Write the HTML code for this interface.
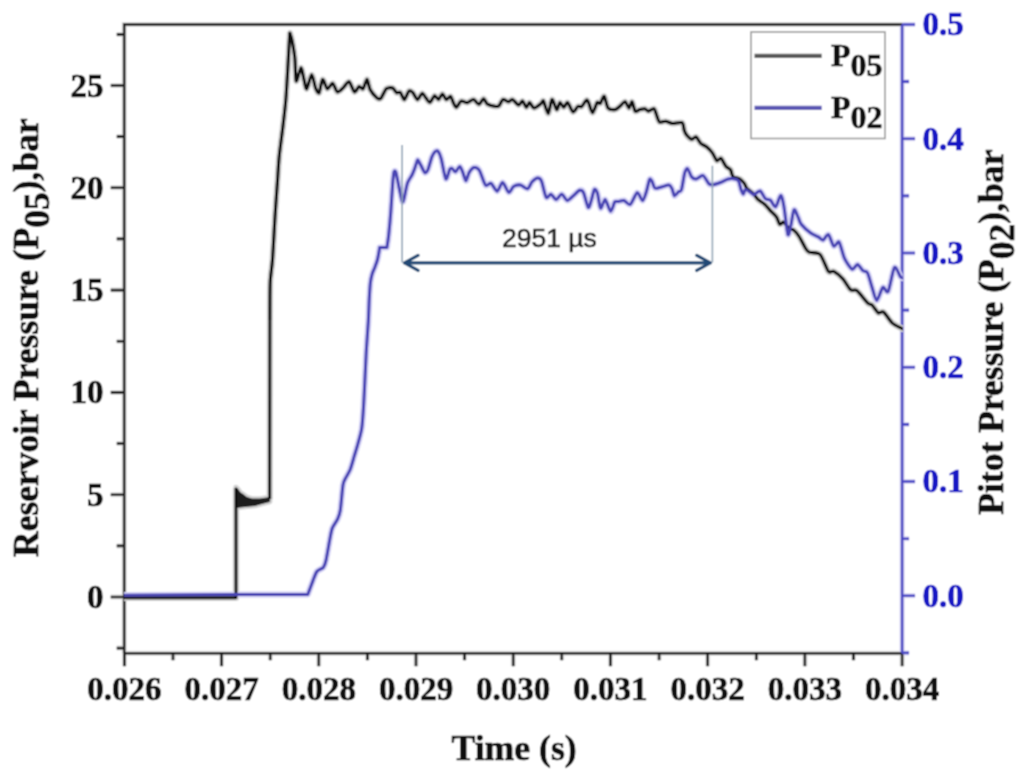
<!DOCTYPE html>
<html><head><meta charset="utf-8"><title>Reservoir and Pitot Pressure</title>
<style>html,body{margin:0;padding:0;background:#fff;width:1030px;height:782px;overflow:hidden;font-family:"Liberation Serif",serif}</style>
</head><body><svg width="1030" height="782" viewBox="0 0 1030 782" style="display:block"><defs><filter id="soft" x="0" y="0" width="1030" height="782" filterUnits="userSpaceOnUse"><feConvolveMatrix order="3" kernelMatrix="1 2 1 2 4 2 1 2 1" divisor="16" edgeMode="duplicate"/></filter></defs><g filter="url(#soft)"><rect width="1030" height="782" fill="#fff"/><path d="M124.2,653.2 L124.2,24.5 L902.1,24.5 M124.2,653.2 L902.1,653.2 M124.4,653.2 L124.4,666.2 M173.0,653.2 L173.0,660.2 M221.6,653.2 L221.6,666.2 M270.2,653.2 L270.2,660.2 M318.8,653.2 L318.8,666.2 M367.4,653.2 L367.4,660.2 M416.0,653.2 L416.0,666.2 M464.6,653.2 L464.6,660.2 M513.2,653.2 L513.2,666.2 M561.8,653.2 L561.8,660.2 M610.4,653.2 L610.4,666.2 M659.1,653.2 L659.1,660.2 M707.7,653.2 L707.7,666.2 M756.3,653.2 L756.3,660.2 M804.9,653.2 L804.9,666.2 M853.5,653.2 L853.5,660.2 M902.1,653.2 L902.1,666.2 M124.2,597.0 L110.7,597.0 M124.2,494.7 L110.7,494.7 M124.2,392.4 L110.7,392.4 M124.2,290.1 L110.7,290.1 M124.2,187.8 L110.7,187.8 M124.2,85.5 L110.7,85.5 M124.2,648.1 L116.7,648.1 M124.2,545.9 L116.7,545.9 M124.2,443.5 L116.7,443.5 M124.2,341.2 L116.7,341.2 M124.2,238.9 L116.7,238.9 M124.2,136.6 L116.7,136.6 M124.2,34.4 L116.7,34.4" fill="none" stroke="#dcdcdc" stroke-width="5"/><path d="M902.1,653.2 L902.1,24.5 M902.1,595.8 L915.1,595.8 M902.1,481.5 L915.1,481.5 M902.1,367.3 L915.1,367.3 M902.1,253.0 L915.1,253.0 M902.1,138.8 L915.1,138.8 M902.1,24.5 L915.1,24.5 M902.1,652.9 L909.1,652.9 M902.1,538.7 L909.1,538.7 M902.1,424.4 L909.1,424.4 M902.1,310.1 L909.1,310.1 M902.1,195.9 L909.1,195.9 M902.1,81.6 L909.1,81.6" stroke="#dad8f4" stroke-width="5" fill="none"/><path d="M124.2,653.2 L124.2,24.5 L902.1,24.5" fill="none" stroke="#1c1c1c" stroke-width="2.6"/><path d="M124.2,653.2 L902.1,653.2" fill="none" stroke="#1c1c1c" stroke-width="2.6"/><path d="M124.4,653.2 L124.4,666.2 M173.0,653.2 L173.0,660.2 M221.6,653.2 L221.6,666.2 M270.2,653.2 L270.2,660.2 M318.8,653.2 L318.8,666.2 M367.4,653.2 L367.4,660.2 M416.0,653.2 L416.0,666.2 M464.6,653.2 L464.6,660.2 M513.2,653.2 L513.2,666.2 M561.8,653.2 L561.8,660.2 M610.4,653.2 L610.4,666.2 M659.1,653.2 L659.1,660.2 M707.7,653.2 L707.7,666.2 M756.3,653.2 L756.3,660.2 M804.9,653.2 L804.9,666.2 M853.5,653.2 L853.5,660.2 M902.1,653.2 L902.1,666.2 M124.2,597.0 L110.7,597.0 M124.2,494.7 L110.7,494.7 M124.2,392.4 L110.7,392.4 M124.2,290.1 L110.7,290.1 M124.2,187.8 L110.7,187.8 M124.2,85.5 L110.7,85.5 M124.2,648.1 L116.7,648.1 M124.2,545.9 L116.7,545.9 M124.2,443.5 L116.7,443.5 M124.2,341.2 L116.7,341.2 M124.2,238.9 L116.7,238.9 M124.2,136.6 L116.7,136.6 M124.2,34.4 L116.7,34.4" stroke="#1c1c1c" stroke-width="2.6" fill="none"/><path d="M902.1,653.2 L902.1,24.5 M902.1,595.8 L915.1,595.8 M902.1,481.5 L915.1,481.5 M902.1,367.3 L915.1,367.3 M902.1,253.0 L915.1,253.0 M902.1,138.8 L915.1,138.8 M902.1,24.5 L915.1,24.5 M902.1,652.9 L909.1,652.9 M902.1,538.7 L909.1,538.7 M902.1,424.4 L909.1,424.4 M902.1,310.1 L909.1,310.1 M902.1,195.9 L909.1,195.9 M902.1,81.6 L909.1,81.6" stroke="#4a46c4" stroke-width="2.6" fill="none"/><g font-family="Liberation Serif" font-weight="bold" font-size="33" fill="#111" stroke="#111" stroke-width="0.7"><text x="124.4" y="699.5" text-anchor="middle">0.026</text><text x="221.6" y="699.5" text-anchor="middle">0.027</text><text x="318.8" y="699.5" text-anchor="middle">0.028</text><text x="416.0" y="699.5" text-anchor="middle">0.029</text><text x="513.2" y="699.5" text-anchor="middle">0.030</text><text x="610.4" y="699.5" text-anchor="middle">0.031</text><text x="707.7" y="699.5" text-anchor="middle">0.032</text><text x="804.9" y="699.5" text-anchor="middle">0.033</text><text x="902.1" y="699.5" text-anchor="middle">0.034</text><text x="103.5" y="608.0" text-anchor="end">0</text><text x="103.5" y="505.7" text-anchor="end">5</text><text x="103.5" y="403.4" text-anchor="end">10</text><text x="103.5" y="301.1" text-anchor="end">15</text><text x="103.5" y="198.8" text-anchor="end">20</text><text x="103.5" y="96.5" text-anchor="end">25</text></g><g font-family="Liberation Serif" font-weight="bold" font-size="33" fill="#1414c4" stroke="#1414c4" stroke-width="0.7"><text x="922.4" y="606.6">0.0</text><text x="922.4" y="492.3">0.1</text><text x="922.4" y="378.1">0.2</text><text x="922.4" y="263.8">0.3</text><text x="922.4" y="149.6">0.4</text><text x="922.4" y="35.3">0.5</text></g><g font-family="Liberation Serif" font-weight="bold" font-size="35.5" fill="#111" stroke="#111" stroke-width="0.7"><text x="451.5" y="759.7" font-size="35.7">Time (s)</text><text transform="translate(37.5,557) rotate(-90)" x="0" y="0">Reservoir Pressure (P<tspan dy="11">05</tspan><tspan dy="-11">),bar</tspan></text><text transform="translate(1002.5,514.8) rotate(-90)" x="0" y="0" font-size="35.6">Pitot Pressure (P<tspan dy="11">02</tspan><tspan dy="-11">),bar</tspan></text></g><polygon points="236,487.5 238,489.5 240,492.5 243,494.5 247,497.5 252,499 260,499 269.7,497.5 269.7,501.5 262,503.5 255,505.5 245,506.5 236.5,507.5" fill="none" stroke="#d2d2d2" stroke-width="5.5" stroke-linejoin="round"/><path d="M124,597.7 L236,597.7 L236,488 M269.7,499 L269.9,320" fill="none" stroke="#d2d2d2" stroke-width="6.5" stroke-linejoin="round"/><path d="M269.9,320.0 C269.9,320.0 269.9,290.7 270.2,282.7 C270.5,274.7 271.8,268.9 272.5,259.7 C273.2,250.5 274.5,224.4 275.2,213.7 C275.9,203.0 277.1,187.0 277.6,179.4 C278.1,171.8 278.5,163.5 279.2,156.4 C279.9,149.3 282.1,133.5 283.0,125.8 C283.9,118.1 285.3,106.7 285.9,99.0 C286.5,91.3 287.3,76.7 287.8,68.3 C288.3,59.9 289.3,40.5 289.6,36.0 C289.9,31.5 289.9,33.3 290.3,34.3 C290.7,35.3 292.0,40.1 292.6,43.4 C293.2,46.7 294.4,53.7 294.9,58.7 C295.4,63.7 295.4,79.8 296.2,81.0 C297.0,82.2 299.9,68.1 300.9,67.9 C301.9,67.7 303.2,76.7 304.0,79.5 C304.8,82.3 305.7,89.4 306.7,88.8 C307.7,88.2 310.5,75.0 311.7,74.9 C312.9,74.8 314.6,85.7 315.6,88.1 C316.6,90.5 318.2,93.8 319.1,92.7 C320.0,91.6 321.5,80.0 322.6,79.5 C323.7,79.0 326.0,88.3 327.3,88.8 C328.6,89.3 331.4,83.0 332.7,83.4 C334.0,83.8 335.9,91.4 337.4,91.9 C338.9,92.4 342.1,88.6 343.6,87.3 C345.1,86.0 347.5,81.2 349.0,81.8 C350.5,82.4 353.2,91.3 354.5,91.9 C355.8,92.5 358.0,86.9 359.1,86.5 C360.2,86.1 361.9,89.7 363.0,88.8 C364.1,87.9 366.1,79.3 367.0,79.4 C367.9,79.5 368.8,87.0 370.1,89.5 C371.4,92.0 375.6,97.0 377.1,98.1 C378.6,99.2 379.8,99.4 381.0,98.1 C382.2,96.8 384.9,90.0 386.4,88.7 C387.9,87.4 391.3,87.5 392.6,88.0 C393.9,88.5 395.5,92.0 396.5,92.6 C397.5,93.2 399.4,91.7 400.4,92.6 C401.4,93.5 403.2,99.8 404.3,99.6 C405.4,99.4 407.8,92.0 408.9,91.1 C410.0,90.2 411.7,91.5 412.8,92.6 C413.9,93.7 416.3,99.5 417.5,99.6 C418.7,99.7 421.0,93.6 422.1,93.4 C423.2,93.2 425.0,96.9 426.0,98.1 C427.0,99.3 428.8,102.6 429.9,102.3 C431.0,102.0 433.5,96.1 434.6,95.7 C435.7,95.3 437.5,99.7 438.5,99.5 C439.5,99.3 441.4,94.1 442.4,94.1 C443.4,94.1 445.2,99.2 446.3,99.5 C447.4,99.8 449.7,96.0 450.6,96.4 C451.5,96.8 452.5,101.1 453.3,102.6 C454.1,104.1 455.4,107.5 456.4,107.3 C457.4,107.1 459.6,101.7 461.1,101.1 C462.6,100.5 465.6,102.8 467.3,102.6 C469.0,102.4 472.0,99.3 473.5,99.5 C475.0,99.7 477.6,104.3 478.9,104.2 C480.2,104.1 482.5,98.7 483.6,98.7 C484.7,98.7 485.8,103.2 487.5,104.2 C489.2,105.2 494.5,106.3 496.0,106.5 C497.5,106.7 498.2,106.6 499.1,105.7 C500.0,104.8 501.8,100.0 503.1,99.5 C504.4,99.0 507.3,101.8 508.5,101.8 C509.7,101.8 511.1,99.1 512.4,99.5 C513.7,99.9 517.3,104.8 518.6,105.0 C519.9,105.2 521.5,100.8 522.5,101.1 C523.5,101.4 525.5,107.1 526.4,107.3 C527.3,107.5 528.5,102.5 529.5,102.6 C530.5,102.7 532.6,107.9 534.2,108.0 C535.8,108.1 540.0,104.3 541.2,103.4 C542.4,102.5 542.6,99.8 543.5,101.1 C544.4,102.4 547.1,113.7 548.2,113.5 C549.3,113.3 550.9,100.0 552.0,99.5 C553.1,99.0 555.7,109.2 556.7,109.6 C557.7,110.0 558.9,102.9 559.8,102.6 C560.7,102.3 562.7,107.3 563.7,107.3 C564.7,107.3 566.4,102.0 567.6,102.6 C568.8,103.2 571.6,111.4 573.0,111.9 C574.4,112.4 576.6,107.2 577.8,106.5 C579.0,105.8 580.6,107.3 581.7,106.5 C582.8,105.7 585.4,100.8 586.3,100.3 C587.2,99.8 587.8,100.9 588.6,102.6 C589.4,104.3 591.4,112.7 592.5,112.7 C593.6,112.7 596.2,103.8 597.2,102.6 C598.2,101.4 599.4,104.2 600.3,103.4 C601.2,102.6 603.2,95.8 604.2,96.4 C605.2,97.0 606.7,106.2 608.1,108.0 C609.5,109.8 613.5,109.8 615.0,109.6 C616.5,109.4 618.4,107.5 619.7,106.5 C621.0,105.5 623.9,101.6 625.1,101.8 C626.3,102.0 628.1,108.0 629.0,108.0 C629.9,108.0 631.3,101.4 632.1,101.8 C632.9,102.2 634.2,110.2 635.2,111.2 C636.2,112.2 638.6,109.9 639.9,109.6 C641.2,109.3 643.6,108.5 644.7,108.7 C645.8,108.9 647.3,111.1 648.5,111.1 C649.7,111.1 653.0,108.3 654.0,108.7 C655.0,109.1 655.6,112.4 656.3,114.2 C657.0,116.0 658.2,121.0 659.4,121.9 C660.6,122.8 663.8,121.0 665.6,121.2 C667.4,121.4 670.4,123.3 672.6,123.5 C674.8,123.7 680.4,121.8 682.0,122.7 C683.6,123.6 683.7,128.8 684.3,130.5 C684.9,132.2 685.6,133.9 686.6,135.1 C687.6,136.3 690.2,139.0 691.5,139.3 C692.8,139.6 694.9,136.5 696.1,137.0 C697.3,137.5 699.3,142.1 700.7,143.4 C702.1,144.7 705.0,145.6 706.5,146.8 C708.0,148.0 710.8,150.8 712.2,152.6 C713.6,154.4 715.6,159.8 716.8,160.6 C718.0,161.4 719.7,157.5 720.9,158.3 C722.1,159.1 724.7,164.9 726.0,166.4 C727.3,167.9 729.7,168.4 730.6,169.8 C731.5,171.2 731.8,175.5 733.0,176.7 C734.2,177.9 738.3,178.1 739.8,179.0 C741.3,179.9 743.5,182.4 744.4,183.6 C745.3,184.8 745.5,186.8 746.7,188.2 C747.9,189.6 752.1,192.5 753.6,194.0 C755.1,195.5 756.6,198.3 758.2,199.7 C759.8,201.1 763.7,203.3 765.3,204.8 C766.9,206.3 769.0,209.3 770.5,210.9 C772.0,212.5 775.4,215.3 776.6,217.1 C777.8,218.9 778.7,223.5 779.7,224.2 C780.7,224.9 782.6,221.7 783.8,222.2 C785.0,222.7 787.5,227.2 788.9,228.3 C790.3,229.4 792.6,229.3 794.0,230.4 C795.4,231.5 797.6,234.2 799.1,236.5 C800.6,238.8 803.9,245.6 805.2,247.7 C806.5,249.8 807.2,251.3 809.2,252.2 C811.2,253.1 817.4,251.9 820.0,254.5 C822.6,257.1 826.6,269.1 828.4,271.4 C830.2,273.7 831.9,270.4 833.8,271.4 C835.7,272.4 840.8,276.6 843.0,279.1 C845.2,281.6 848.8,288.3 850.6,289.8 C852.4,291.3 854.5,288.9 856.8,290.6 C859.1,292.3 865.5,300.9 867.5,302.8 C869.5,304.7 870.7,303.8 872.1,305.1 C873.5,306.4 876.7,311.9 878.2,312.8 C879.7,313.7 881.7,310.8 883.6,312.1 C885.5,313.4 889.7,320.7 892.1,322.8 C894.5,324.9 899.8,327.4 901.3,328.2 C902.8,329.0 903.0,329.0 903.0,329.0" fill="none" stroke="#d2d2d2" stroke-width="6.5" stroke-linejoin="round"/><path d="M124.0,595.2 C124.0,595.2 236.0,594.6 236.0,594.6 C236.0,594.6 307.8,594.4 307.8,594.4 C307.8,594.4 311.5,584.5 312.7,581.4 C313.9,578.3 315.5,573.4 316.9,571.5 C318.3,569.6 322.1,569.0 323.3,567.5 C324.5,566.0 325.2,564.0 326.0,560.4 C326.8,556.8 328.8,544.9 329.6,540.6 C330.4,536.3 331.2,531.0 332.3,528.1 C333.4,525.2 336.5,521.5 337.6,519.1 C338.7,516.7 339.6,514.7 340.3,510.2 C341.0,505.7 342.3,489.4 343.0,485.1 C343.7,480.8 344.7,480.0 345.7,477.9 C346.7,475.8 349.1,472.3 350.2,469.5 C351.3,466.7 353.1,460.1 354.1,456.7 C355.1,453.3 356.9,447.6 357.9,443.9 C358.9,440.2 360.9,433.7 361.7,428.6 C362.5,423.5 363.2,412.1 363.6,405.6 C364.0,399.1 364.5,387.7 364.9,380.0 C365.3,372.3 366.0,355.6 366.5,347.8 C367.0,340.0 367.9,328.4 368.3,321.7 C368.7,315.0 369.0,303.0 369.3,297.8 C369.6,292.6 370.0,285.8 370.4,282.6 C370.8,279.4 371.6,275.9 372.2,273.9 C372.8,271.9 374.1,269.3 374.8,267.4 C375.5,265.5 376.8,262.2 377.5,259.5 C378.2,256.8 379.7,247.5 379.7,247.5 C379.7,247.5 386.9,247.5 386.9,247.5 C386.9,247.5 388.2,239.8 388.7,235.0 C389.2,230.2 390.3,218.3 390.8,211.6 C391.3,204.9 392.2,190.1 392.6,184.8 C393.0,179.5 393.6,173.9 394.0,172.2 C394.4,170.5 395.2,170.5 395.8,172.2 C396.4,173.9 397.7,181.0 398.5,184.8 C399.3,188.6 401.4,199.0 402.1,200.9 C402.8,202.8 403.2,201.4 403.9,199.0 C404.6,196.6 406.4,186.2 407.5,183.0 C408.6,179.8 411.1,176.9 412.0,175.0 C412.9,173.1 413.9,170.6 414.6,168.7 C415.3,166.8 416.8,161.7 417.3,160.6 C417.8,159.5 417.8,159.9 418.3,160.6 C418.8,161.3 420.1,164.0 421.0,165.6 C421.9,167.2 424.0,172.1 424.9,172.6 C425.8,173.1 427.1,171.6 428.0,169.5 C428.9,167.4 430.9,159.5 431.8,157.1 C432.7,154.7 434.2,152.5 435.0,151.7 C435.8,150.9 437.2,150.4 438.0,151.3 C438.8,152.2 440.2,154.9 441.2,158.6 C442.2,162.3 444.7,177.3 445.8,178.8 C446.9,180.3 448.9,170.9 449.7,169.5 C450.5,168.1 451.2,168.0 452.0,168.3 C452.8,168.6 454.5,172.1 455.5,171.8 C456.5,171.5 458.8,166.3 459.8,166.4 C460.8,166.5 462.1,170.7 462.9,172.6 C463.7,174.5 465.2,180.8 466.0,180.8 C466.8,180.8 468.0,174.4 469.1,172.6 C470.2,170.8 472.5,167.8 473.9,167.5 C475.3,167.2 477.8,167.9 479.3,170.2 C480.8,172.5 483.9,183.2 485.5,185.0 C487.1,186.8 489.4,182.6 491.0,183.4 C492.6,184.2 495.7,191.3 497.2,191.2 C498.7,191.1 501.1,182.5 502.6,182.6 C504.1,182.7 507.3,191.8 508.8,192.3 C510.3,192.8 511.9,187.5 513.5,186.5 C515.1,185.5 518.6,184.7 520.5,185.0 C522.4,185.3 526.0,189.2 527.5,188.8 C529.0,188.4 530.8,183.2 532.1,181.8 C533.4,180.4 536.3,178.1 537.6,178.0 C538.9,177.9 540.4,178.5 541.5,181.1 C542.6,183.7 544.9,195.6 546.2,197.3 C547.5,199.0 549.6,193.9 550.9,194.2 C552.2,194.5 554.9,199.6 556.3,199.6 C557.7,199.6 560.2,194.1 561.7,194.2 C563.2,194.3 565.6,200.2 567.2,200.4 C568.8,200.6 571.7,197.0 573.4,195.7 C575.1,194.4 578.3,190.7 579.6,190.3 C580.9,189.9 582.4,190.3 583.5,192.6 C584.6,194.9 587.2,206.4 588.2,207.4 C589.2,208.4 590.5,202.8 591.3,200.4 C592.1,198.0 593.6,190.4 594.4,189.5 C595.2,188.6 596.7,190.9 597.5,193.4 C598.3,195.9 599.6,207.4 600.6,208.2 C601.6,209.0 603.9,199.2 605.2,199.6 C606.5,200.0 609.4,211.0 610.7,211.3 C612.0,211.6 613.7,203.3 614.7,202.0 C615.7,200.7 617.3,201.8 618.5,201.6 C619.7,201.4 622.4,200.1 624.0,200.5 C625.6,200.9 628.4,205.4 630.2,204.4 C632.0,203.4 635.5,193.2 637.2,192.7 C638.9,192.2 641.4,200.7 642.6,200.5 C643.8,200.3 645.6,194.0 646.5,191.2 C647.4,188.4 648.9,180.8 649.6,179.5 C650.3,178.2 651.2,180.0 651.9,181.1 C652.6,182.2 653.9,187.3 655.0,188.1 C656.1,188.9 658.6,187.7 660.5,187.3 C662.4,186.9 667.5,184.8 669.0,185.0 C670.5,185.2 671.4,187.4 672.1,188.8 C672.8,190.2 673.7,195.4 674.5,195.8 C675.3,196.2 677.4,192.8 678.3,192.0 C679.2,191.2 680.7,192.1 681.5,189.6 C682.3,187.1 683.8,176.1 684.6,173.3 C685.4,170.5 686.7,168.2 687.6,168.7 C688.5,169.2 690.4,175.3 691.5,176.7 C692.6,178.1 694.6,179.1 696.1,179.0 C697.6,178.9 701.3,175.0 703.0,175.6 C704.7,176.2 707.6,182.4 708.8,183.6 C710.0,184.8 710.7,184.9 712.2,184.8 C713.7,184.7 718.2,183.3 720.3,182.5 C722.4,181.7 726.3,179.5 728.3,179.0 C730.3,178.5 733.8,178.7 735.2,179.0 C736.6,179.3 737.9,179.9 738.7,181.3 C739.5,182.7 740.4,187.7 741.0,189.4 C741.6,191.1 742.7,194.0 743.3,194.0 C743.9,194.0 744.5,189.5 745.6,189.4 C746.7,189.3 750.2,192.2 751.3,192.9 C752.4,193.6 752.9,194.9 754.1,194.6 C755.3,194.3 758.7,190.5 760.2,191.0 C761.7,191.5 763.9,197.4 765.3,198.6 C766.7,199.8 769.1,199.1 770.5,200.2 C771.9,201.3 774.2,207.4 775.6,206.8 C777.0,206.2 779.6,195.7 780.7,195.6 C781.8,195.5 782.8,200.6 783.8,205.8 C784.8,211.0 787.0,231.8 787.9,234.4 C788.8,237.0 790.1,228.5 790.9,225.2 C791.7,221.9 793.0,211.0 794.0,209.9 C795.0,208.8 797.1,215.2 798.1,217.1 C799.1,219.0 799.5,222.1 801.2,224.2 C802.9,226.3 808.4,231.3 810.7,233.0 C813.0,234.7 816.8,236.0 818.4,236.9 C820.0,237.8 821.7,240.3 823.0,240.0 C824.3,239.7 827.0,233.8 828.4,234.6 C829.8,235.4 832.4,245.1 833.8,246.1 C835.2,247.1 837.7,240.6 839.1,242.2 C840.5,243.8 842.8,254.8 844.5,258.4 C846.2,262.0 850.5,268.3 852.2,269.1 C853.9,269.9 856.1,264.3 857.5,264.5 C858.9,264.7 861.6,269.5 862.9,270.6 C864.2,271.7 866.3,270.6 867.5,272.9 C868.7,275.2 870.9,283.8 872.1,287.5 C873.3,291.2 875.3,300.5 876.7,300.5 C878.1,300.5 881.3,288.7 882.8,287.5 C884.3,286.3 886.7,294.0 888.2,291.3 C889.7,288.6 892.8,269.5 894.4,267.6 C896.0,265.7 899.4,275.4 900.5,276.8 C901.6,278.2 903.0,278.0 903.0,278.0" fill="none" stroke="#d6d4f6" stroke-width="6.5" stroke-linejoin="round"/><polygon points="236,487.5 238,489.5 240,492.5 243,494.5 247,497.5 252,499 260,499 269.7,497.5 269.7,501.5 262,503.5 255,505.5 245,506.5 236.5,507.5" fill="#1a1a1a" stroke="#1a1a1a" stroke-width="0.8" stroke-linejoin="round"/><path d="M124,597.7 L236,597.7 L236,488 M269.7,499 L269.9,320" fill="none" stroke="#111" stroke-width="2.9" stroke-linejoin="round"/><path d="M269.9,320.0 C269.9,320.0 269.9,290.7 270.2,282.7 C270.5,274.7 271.8,268.9 272.5,259.7 C273.2,250.5 274.5,224.4 275.2,213.7 C275.9,203.0 277.1,187.0 277.6,179.4 C278.1,171.8 278.5,163.5 279.2,156.4 C279.9,149.3 282.1,133.5 283.0,125.8 C283.9,118.1 285.3,106.7 285.9,99.0 C286.5,91.3 287.3,76.7 287.8,68.3 C288.3,59.9 289.3,40.5 289.6,36.0 C289.9,31.5 289.9,33.3 290.3,34.3 C290.7,35.3 292.0,40.1 292.6,43.4 C293.2,46.7 294.4,53.7 294.9,58.7 C295.4,63.7 295.4,79.8 296.2,81.0 C297.0,82.2 299.9,68.1 300.9,67.9 C301.9,67.7 303.2,76.7 304.0,79.5 C304.8,82.3 305.7,89.4 306.7,88.8 C307.7,88.2 310.5,75.0 311.7,74.9 C312.9,74.8 314.6,85.7 315.6,88.1 C316.6,90.5 318.2,93.8 319.1,92.7 C320.0,91.6 321.5,80.0 322.6,79.5 C323.7,79.0 326.0,88.3 327.3,88.8 C328.6,89.3 331.4,83.0 332.7,83.4 C334.0,83.8 335.9,91.4 337.4,91.9 C338.9,92.4 342.1,88.6 343.6,87.3 C345.1,86.0 347.5,81.2 349.0,81.8 C350.5,82.4 353.2,91.3 354.5,91.9 C355.8,92.5 358.0,86.9 359.1,86.5 C360.2,86.1 361.9,89.7 363.0,88.8 C364.1,87.9 366.1,79.3 367.0,79.4 C367.9,79.5 368.8,87.0 370.1,89.5 C371.4,92.0 375.6,97.0 377.1,98.1 C378.6,99.2 379.8,99.4 381.0,98.1 C382.2,96.8 384.9,90.0 386.4,88.7 C387.9,87.4 391.3,87.5 392.6,88.0 C393.9,88.5 395.5,92.0 396.5,92.6 C397.5,93.2 399.4,91.7 400.4,92.6 C401.4,93.5 403.2,99.8 404.3,99.6 C405.4,99.4 407.8,92.0 408.9,91.1 C410.0,90.2 411.7,91.5 412.8,92.6 C413.9,93.7 416.3,99.5 417.5,99.6 C418.7,99.7 421.0,93.6 422.1,93.4 C423.2,93.2 425.0,96.9 426.0,98.1 C427.0,99.3 428.8,102.6 429.9,102.3 C431.0,102.0 433.5,96.1 434.6,95.7 C435.7,95.3 437.5,99.7 438.5,99.5 C439.5,99.3 441.4,94.1 442.4,94.1 C443.4,94.1 445.2,99.2 446.3,99.5 C447.4,99.8 449.7,96.0 450.6,96.4 C451.5,96.8 452.5,101.1 453.3,102.6 C454.1,104.1 455.4,107.5 456.4,107.3 C457.4,107.1 459.6,101.7 461.1,101.1 C462.6,100.5 465.6,102.8 467.3,102.6 C469.0,102.4 472.0,99.3 473.5,99.5 C475.0,99.7 477.6,104.3 478.9,104.2 C480.2,104.1 482.5,98.7 483.6,98.7 C484.7,98.7 485.8,103.2 487.5,104.2 C489.2,105.2 494.5,106.3 496.0,106.5 C497.5,106.7 498.2,106.6 499.1,105.7 C500.0,104.8 501.8,100.0 503.1,99.5 C504.4,99.0 507.3,101.8 508.5,101.8 C509.7,101.8 511.1,99.1 512.4,99.5 C513.7,99.9 517.3,104.8 518.6,105.0 C519.9,105.2 521.5,100.8 522.5,101.1 C523.5,101.4 525.5,107.1 526.4,107.3 C527.3,107.5 528.5,102.5 529.5,102.6 C530.5,102.7 532.6,107.9 534.2,108.0 C535.8,108.1 540.0,104.3 541.2,103.4 C542.4,102.5 542.6,99.8 543.5,101.1 C544.4,102.4 547.1,113.7 548.2,113.5 C549.3,113.3 550.9,100.0 552.0,99.5 C553.1,99.0 555.7,109.2 556.7,109.6 C557.7,110.0 558.9,102.9 559.8,102.6 C560.7,102.3 562.7,107.3 563.7,107.3 C564.7,107.3 566.4,102.0 567.6,102.6 C568.8,103.2 571.6,111.4 573.0,111.9 C574.4,112.4 576.6,107.2 577.8,106.5 C579.0,105.8 580.6,107.3 581.7,106.5 C582.8,105.7 585.4,100.8 586.3,100.3 C587.2,99.8 587.8,100.9 588.6,102.6 C589.4,104.3 591.4,112.7 592.5,112.7 C593.6,112.7 596.2,103.8 597.2,102.6 C598.2,101.4 599.4,104.2 600.3,103.4 C601.2,102.6 603.2,95.8 604.2,96.4 C605.2,97.0 606.7,106.2 608.1,108.0 C609.5,109.8 613.5,109.8 615.0,109.6 C616.5,109.4 618.4,107.5 619.7,106.5 C621.0,105.5 623.9,101.6 625.1,101.8 C626.3,102.0 628.1,108.0 629.0,108.0 C629.9,108.0 631.3,101.4 632.1,101.8 C632.9,102.2 634.2,110.2 635.2,111.2 C636.2,112.2 638.6,109.9 639.9,109.6 C641.2,109.3 643.6,108.5 644.7,108.7 C645.8,108.9 647.3,111.1 648.5,111.1 C649.7,111.1 653.0,108.3 654.0,108.7 C655.0,109.1 655.6,112.4 656.3,114.2 C657.0,116.0 658.2,121.0 659.4,121.9 C660.6,122.8 663.8,121.0 665.6,121.2 C667.4,121.4 670.4,123.3 672.6,123.5 C674.8,123.7 680.4,121.8 682.0,122.7 C683.6,123.6 683.7,128.8 684.3,130.5 C684.9,132.2 685.6,133.9 686.6,135.1 C687.6,136.3 690.2,139.0 691.5,139.3 C692.8,139.6 694.9,136.5 696.1,137.0 C697.3,137.5 699.3,142.1 700.7,143.4 C702.1,144.7 705.0,145.6 706.5,146.8 C708.0,148.0 710.8,150.8 712.2,152.6 C713.6,154.4 715.6,159.8 716.8,160.6 C718.0,161.4 719.7,157.5 720.9,158.3 C722.1,159.1 724.7,164.9 726.0,166.4 C727.3,167.9 729.7,168.4 730.6,169.8 C731.5,171.2 731.8,175.5 733.0,176.7 C734.2,177.9 738.3,178.1 739.8,179.0 C741.3,179.9 743.5,182.4 744.4,183.6 C745.3,184.8 745.5,186.8 746.7,188.2 C747.9,189.6 752.1,192.5 753.6,194.0 C755.1,195.5 756.6,198.3 758.2,199.7 C759.8,201.1 763.7,203.3 765.3,204.8 C766.9,206.3 769.0,209.3 770.5,210.9 C772.0,212.5 775.4,215.3 776.6,217.1 C777.8,218.9 778.7,223.5 779.7,224.2 C780.7,224.9 782.6,221.7 783.8,222.2 C785.0,222.7 787.5,227.2 788.9,228.3 C790.3,229.4 792.6,229.3 794.0,230.4 C795.4,231.5 797.6,234.2 799.1,236.5 C800.6,238.8 803.9,245.6 805.2,247.7 C806.5,249.8 807.2,251.3 809.2,252.2 C811.2,253.1 817.4,251.9 820.0,254.5 C822.6,257.1 826.6,269.1 828.4,271.4 C830.2,273.7 831.9,270.4 833.8,271.4 C835.7,272.4 840.8,276.6 843.0,279.1 C845.2,281.6 848.8,288.3 850.6,289.8 C852.4,291.3 854.5,288.9 856.8,290.6 C859.1,292.3 865.5,300.9 867.5,302.8 C869.5,304.7 870.7,303.8 872.1,305.1 C873.5,306.4 876.7,311.9 878.2,312.8 C879.7,313.7 881.7,310.8 883.6,312.1 C885.5,313.4 889.7,320.7 892.1,322.8 C894.5,324.9 899.8,327.4 901.3,328.2 C902.8,329.0 903.0,329.0 903.0,329.0" fill="none" stroke="#111" stroke-width="3.1" stroke-linejoin="round"/><path d="M124.0,595.2 C124.0,595.2 236.0,594.6 236.0,594.6 C236.0,594.6 307.8,594.4 307.8,594.4 C307.8,594.4 311.5,584.5 312.7,581.4 C313.9,578.3 315.5,573.4 316.9,571.5 C318.3,569.6 322.1,569.0 323.3,567.5 C324.5,566.0 325.2,564.0 326.0,560.4 C326.8,556.8 328.8,544.9 329.6,540.6 C330.4,536.3 331.2,531.0 332.3,528.1 C333.4,525.2 336.5,521.5 337.6,519.1 C338.7,516.7 339.6,514.7 340.3,510.2 C341.0,505.7 342.3,489.4 343.0,485.1 C343.7,480.8 344.7,480.0 345.7,477.9 C346.7,475.8 349.1,472.3 350.2,469.5 C351.3,466.7 353.1,460.1 354.1,456.7 C355.1,453.3 356.9,447.6 357.9,443.9 C358.9,440.2 360.9,433.7 361.7,428.6 C362.5,423.5 363.2,412.1 363.6,405.6 C364.0,399.1 364.5,387.7 364.9,380.0 C365.3,372.3 366.0,355.6 366.5,347.8 C367.0,340.0 367.9,328.4 368.3,321.7 C368.7,315.0 369.0,303.0 369.3,297.8 C369.6,292.6 370.0,285.8 370.4,282.6 C370.8,279.4 371.6,275.9 372.2,273.9 C372.8,271.9 374.1,269.3 374.8,267.4 C375.5,265.5 376.8,262.2 377.5,259.5 C378.2,256.8 379.7,247.5 379.7,247.5 C379.7,247.5 386.9,247.5 386.9,247.5 C386.9,247.5 388.2,239.8 388.7,235.0 C389.2,230.2 390.3,218.3 390.8,211.6 C391.3,204.9 392.2,190.1 392.6,184.8 C393.0,179.5 393.6,173.9 394.0,172.2 C394.4,170.5 395.2,170.5 395.8,172.2 C396.4,173.9 397.7,181.0 398.5,184.8 C399.3,188.6 401.4,199.0 402.1,200.9 C402.8,202.8 403.2,201.4 403.9,199.0 C404.6,196.6 406.4,186.2 407.5,183.0 C408.6,179.8 411.1,176.9 412.0,175.0 C412.9,173.1 413.9,170.6 414.6,168.7 C415.3,166.8 416.8,161.7 417.3,160.6 C417.8,159.5 417.8,159.9 418.3,160.6 C418.8,161.3 420.1,164.0 421.0,165.6 C421.9,167.2 424.0,172.1 424.9,172.6 C425.8,173.1 427.1,171.6 428.0,169.5 C428.9,167.4 430.9,159.5 431.8,157.1 C432.7,154.7 434.2,152.5 435.0,151.7 C435.8,150.9 437.2,150.4 438.0,151.3 C438.8,152.2 440.2,154.9 441.2,158.6 C442.2,162.3 444.7,177.3 445.8,178.8 C446.9,180.3 448.9,170.9 449.7,169.5 C450.5,168.1 451.2,168.0 452.0,168.3 C452.8,168.6 454.5,172.1 455.5,171.8 C456.5,171.5 458.8,166.3 459.8,166.4 C460.8,166.5 462.1,170.7 462.9,172.6 C463.7,174.5 465.2,180.8 466.0,180.8 C466.8,180.8 468.0,174.4 469.1,172.6 C470.2,170.8 472.5,167.8 473.9,167.5 C475.3,167.2 477.8,167.9 479.3,170.2 C480.8,172.5 483.9,183.2 485.5,185.0 C487.1,186.8 489.4,182.6 491.0,183.4 C492.6,184.2 495.7,191.3 497.2,191.2 C498.7,191.1 501.1,182.5 502.6,182.6 C504.1,182.7 507.3,191.8 508.8,192.3 C510.3,192.8 511.9,187.5 513.5,186.5 C515.1,185.5 518.6,184.7 520.5,185.0 C522.4,185.3 526.0,189.2 527.5,188.8 C529.0,188.4 530.8,183.2 532.1,181.8 C533.4,180.4 536.3,178.1 537.6,178.0 C538.9,177.9 540.4,178.5 541.5,181.1 C542.6,183.7 544.9,195.6 546.2,197.3 C547.5,199.0 549.6,193.9 550.9,194.2 C552.2,194.5 554.9,199.6 556.3,199.6 C557.7,199.6 560.2,194.1 561.7,194.2 C563.2,194.3 565.6,200.2 567.2,200.4 C568.8,200.6 571.7,197.0 573.4,195.7 C575.1,194.4 578.3,190.7 579.6,190.3 C580.9,189.9 582.4,190.3 583.5,192.6 C584.6,194.9 587.2,206.4 588.2,207.4 C589.2,208.4 590.5,202.8 591.3,200.4 C592.1,198.0 593.6,190.4 594.4,189.5 C595.2,188.6 596.7,190.9 597.5,193.4 C598.3,195.9 599.6,207.4 600.6,208.2 C601.6,209.0 603.9,199.2 605.2,199.6 C606.5,200.0 609.4,211.0 610.7,211.3 C612.0,211.6 613.7,203.3 614.7,202.0 C615.7,200.7 617.3,201.8 618.5,201.6 C619.7,201.4 622.4,200.1 624.0,200.5 C625.6,200.9 628.4,205.4 630.2,204.4 C632.0,203.4 635.5,193.2 637.2,192.7 C638.9,192.2 641.4,200.7 642.6,200.5 C643.8,200.3 645.6,194.0 646.5,191.2 C647.4,188.4 648.9,180.8 649.6,179.5 C650.3,178.2 651.2,180.0 651.9,181.1 C652.6,182.2 653.9,187.3 655.0,188.1 C656.1,188.9 658.6,187.7 660.5,187.3 C662.4,186.9 667.5,184.8 669.0,185.0 C670.5,185.2 671.4,187.4 672.1,188.8 C672.8,190.2 673.7,195.4 674.5,195.8 C675.3,196.2 677.4,192.8 678.3,192.0 C679.2,191.2 680.7,192.1 681.5,189.6 C682.3,187.1 683.8,176.1 684.6,173.3 C685.4,170.5 686.7,168.2 687.6,168.7 C688.5,169.2 690.4,175.3 691.5,176.7 C692.6,178.1 694.6,179.1 696.1,179.0 C697.6,178.9 701.3,175.0 703.0,175.6 C704.7,176.2 707.6,182.4 708.8,183.6 C710.0,184.8 710.7,184.9 712.2,184.8 C713.7,184.7 718.2,183.3 720.3,182.5 C722.4,181.7 726.3,179.5 728.3,179.0 C730.3,178.5 733.8,178.7 735.2,179.0 C736.6,179.3 737.9,179.9 738.7,181.3 C739.5,182.7 740.4,187.7 741.0,189.4 C741.6,191.1 742.7,194.0 743.3,194.0 C743.9,194.0 744.5,189.5 745.6,189.4 C746.7,189.3 750.2,192.2 751.3,192.9 C752.4,193.6 752.9,194.9 754.1,194.6 C755.3,194.3 758.7,190.5 760.2,191.0 C761.7,191.5 763.9,197.4 765.3,198.6 C766.7,199.8 769.1,199.1 770.5,200.2 C771.9,201.3 774.2,207.4 775.6,206.8 C777.0,206.2 779.6,195.7 780.7,195.6 C781.8,195.5 782.8,200.6 783.8,205.8 C784.8,211.0 787.0,231.8 787.9,234.4 C788.8,237.0 790.1,228.5 790.9,225.2 C791.7,221.9 793.0,211.0 794.0,209.9 C795.0,208.8 797.1,215.2 798.1,217.1 C799.1,219.0 799.5,222.1 801.2,224.2 C802.9,226.3 808.4,231.3 810.7,233.0 C813.0,234.7 816.8,236.0 818.4,236.9 C820.0,237.8 821.7,240.3 823.0,240.0 C824.3,239.7 827.0,233.8 828.4,234.6 C829.8,235.4 832.4,245.1 833.8,246.1 C835.2,247.1 837.7,240.6 839.1,242.2 C840.5,243.8 842.8,254.8 844.5,258.4 C846.2,262.0 850.5,268.3 852.2,269.1 C853.9,269.9 856.1,264.3 857.5,264.5 C858.9,264.7 861.6,269.5 862.9,270.6 C864.2,271.7 866.3,270.6 867.5,272.9 C868.7,275.2 870.9,283.8 872.1,287.5 C873.3,291.2 875.3,300.5 876.7,300.5 C878.1,300.5 881.3,288.7 882.8,287.5 C884.3,286.3 886.7,294.0 888.2,291.3 C889.7,288.6 892.8,269.5 894.4,267.6 C896.0,265.7 899.4,275.4 900.5,276.8 C901.6,278.2 903.0,278.0 903.0,278.0" fill="none" stroke="#4a45b4" stroke-width="3.0" stroke-linejoin="round"/><path d="M402.1,145 L402.1,262.5 M712.4,165.8 L712.4,262.5" stroke="#8fa3b6" stroke-width="1.6" fill="none"/><path d="M404.5,262.9 L710.3,262.9 M418,255.4 L404.5,262.9 L418,270.4 M696.8,255.4 L710.3,262.9 L696.8,270.4" stroke="#214a74" stroke-width="3.3" fill="none" stroke-linecap="round" stroke-linejoin="round"/><text x="502" y="247.2" font-family="Liberation Sans" font-size="26.5" fill="#222" stroke="#222" stroke-width="0.6">2951 µs</text><rect x="751" y="32" width="134" height="106.5" fill="#fff" stroke="#9a9a9a" stroke-width="1.6"/><path d="M754.5,55.9 L821.7,55.9" stroke="#5a5a5a" stroke-width="4.2"/><path d="M754.5,107.9 L821.7,107.9" stroke="#5c58b4" stroke-width="4.1"/><g font-family="Liberation Serif" font-weight="bold" font-size="32" fill="#111" stroke="#111" stroke-width="0.6"><text x="831" y="65.9">P<tspan dy="10.1">05</tspan></text><text x="831" y="118.2">P<tspan dy="10.1">02</tspan></text></g></g></svg></body></html>
